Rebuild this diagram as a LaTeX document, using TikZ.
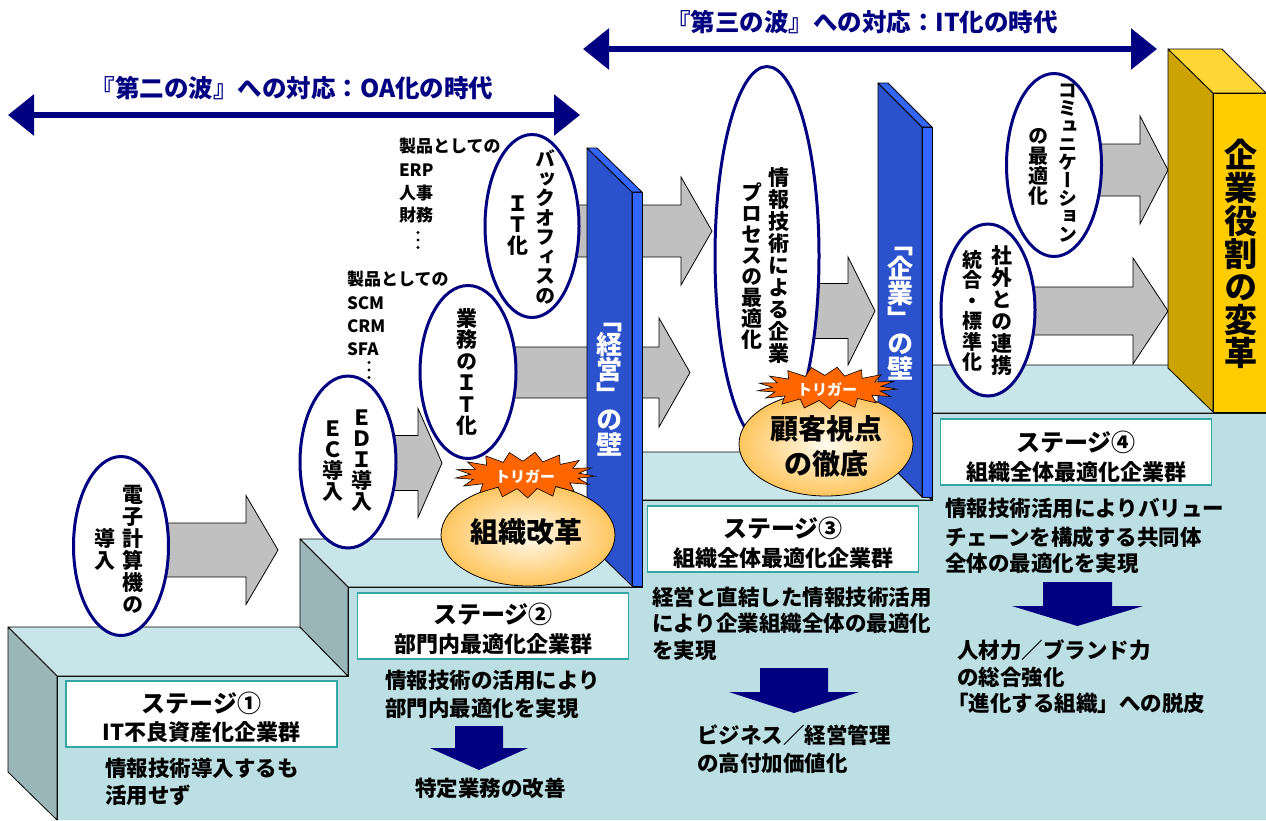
\documentclass[tikz,border=0pt]{standalone}
\usepackage{fontspec}
\usepackage{graphicx}
\setmainfont{Noto Sans CJK JP}
\newfontfamily\jv[RawFeature=+vert]{Noto Sans CJK JP}
\usetikzlibrary{shapes.geometric,arrows.meta}
\definecolor{navyc}{HTML}{000080}
\definecolor{topc}{HTML}{C8E6E9}
\definecolor{frontc}{HTML}{BBDFE3}
\definecolor{sidec}{HTML}{9BB6B9}
\definecolor{walld}{HTML}{2B52CC}
\definecolor{walll}{HTML}{3366FF}
\definecolor{pilf}{HTML}{FFCC00}
\definecolor{pils}{HTML}{CCA300}
\definecolor{pilt}{HTML}{FFD633}
\definecolor{grayc}{HTML}{C0C0C0}
\definecolor{burstc}{HTML}{FF6600}
\definecolor{ovin}{HTML}{FFFBEF}
\definecolor{ovout}{HTML}{FFC55E}
\definecolor{tealc}{HTML}{33A6A6}
\newcommand\grayarrow[6]{\filldraw[garrow] (#1,{#4-#5}) -- (#2,{#4-#5}) -- (#2,{#4-#6}) -- (#3,#4) -- (#2,{#4+#6}) -- (#2,{#4+#5}) -- (#1,{#4+#5}) -- cycle;}
\newcommand\navyarrow[6]{\fill[navyc] ({#1-#3},#2) -- ({#1+#3},#2) -- ({#1+#3},#4) -- ({#1+#5},#4) -- (#1,#6) -- ({#1-#5},#4) -- ({#1-#3},#4) -- cycle;}
\newcommand\threedots[2]{\fill (#1,{#2-7.5}) circle (1.7); \fill (#1,#2) circle (1.7); \fill (#1,{#2+7.5}) circle (1.7);}
% burst: centre x, centre y, outer rx, outer ry
\newcommand\burstshape[4]{\filldraw[fill=burstc,draw=black,line width=0.6pt,line join=miter]
  plot[samples at={0,...,33},variable=\k] ({#1+(mod(\k,2)==0 ? #3 : 0.78*#3)*cos(\k*360/34+3)},{#2+(mod(\k,2)==0 ? #4 : 0.6*#4)*sin(\k*360/34+3)}) -- cycle;}
\begin{document}
\begin{tikzpicture}[x=1pt,y=-1pt,
  every node/.style={inner sep=0pt,outer sep=0pt},
  face/.style={draw=black,line width=0.8pt,line join=round},
  garrow/.style={fill=grayc,draw=black,line width=0.8pt,line join=miter},
  ov/.style={ellipse,draw=navyc,line width=3pt,fill=white},
  vt/.style n args={2}{align=center,font={\jv\bfseries\fontsize{#1}{#2}\selectfont\lineskiplimit=-100pt}},
  bt/.style={anchor=west,font=\bfseries\fontsize{21.5}{25}\selectfont},
  lab/.style={anchor=west,font=\bfseries\fontsize{17}{20}\selectfont},
  hdr/.style={text=navyc,font=\bfseries\fontsize{24.5}{26}\selectfont},
  dbl/.style={navyc,line width=6pt,{Triangle[length=26pt,width=40pt]}-{Triangle[length=26pt,width=40pt]}},
  sbox/.style={draw=tealc,line width=1.5pt,fill=white,minimum width=271pt,minimum height=66pt},
  stt/.style={font=\bfseries\fontsize{24}{26}\selectfont},
  sst/.style={font=\bfseries\fontsize{22}{24}\selectfont},
  trig/.style={text=white,font=\bfseries\fontsize{15}{16}\selectfont},
  oval/.style={ellipse,draw=black,line width=0.8pt,inner color=ovin,outer color=ovout},
  big/.style={align=center,font=\bfseries\fontsize{28}{35}\selectfont}
]
\useasboundingbox (0,0) rectangle (1266,820);
% ---------- staircase ----------
\fill[frontc] (57,820) -- (57,676) -- (348,676) -- (348,587) -- (642,587) -- (642,500) -- (932,500) -- (932,413) -- (1266,413) -- (1266,820) -- cycle;
\draw[face] (57,820) -- (57,676) -- (348,676) -- (348,587) -- (642,587) -- (642,500) -- (932,500) -- (932,413) -- (1266,413);
\filldraw[face,fill=topc] (8,627) -- (300,627) -- (348,676) -- (57,676) -- cycle;
\filldraw[face,fill=topc] (300,539) -- (594,539) -- (642,587) -- (348,587) -- cycle;
\filldraw[face,fill=topc] (594,452) -- (884,452) -- (932,500) -- (642,500) -- cycle;
\filldraw[face,fill=topc] (884,365) -- (1266,365) -- (1266,413) -- (932,413) -- cycle;
\filldraw[face,fill=sidec] (8,627) -- (57,676) -- (57,820) -- (8,772) -- cycle;
\filldraw[face,fill=sidec] (300,539) -- (348,587) -- (348,676) -- (300,627) -- cycle;
\filldraw[face,fill=sidec] (594,452) -- (642,500) -- (642,587) -- (594,539) -- cycle;
\filldraw[face,fill=sidec] (884,365) -- (932,413) -- (932,500) -- (884,452) -- cycle;
% ---------- header arrows ----------
\coordinate (h1l) at (8,115);
\coordinate (h1r) at (580,115);
\coordinate (h2l) at (583,49);
\coordinate (h2r) at (1157,49);
\draw[dbl] (h1l) -- (h1r);
\draw[dbl] (h2l) -- (h2r);
\node[hdr] (h1) at (292,88) {『第二の波』への対応：OA化の時代};
\node[hdr] (h2) at (862,22) {『第三の波』への対応：IT化の時代};
% ---------- gray arrows ----------
\grayarrow{121}{246}{278}{550}{27}{54.5}
\grayarrow{348}{418}{442}{463}{27.5}{54.5}
\grayarrow{468}{659}{690}{372.5}{25.5}{54.5}
\grayarrow{532}{681}{712}{231}{26}{54}
\grayarrow{767}{848}{875}{311}{27.5}{54}
\grayarrow{1054}{1140}{1168}{170}{26}{54}
\grayarrow{988}{1133}{1168}{311}{24}{53}
% ---------- labels ----------
\node[lab] (l1) at (399,146) {製品としての};
\node[lab] (l2) at (399,170) {ERP};
\node[lab] (l3) at (399,193) {人事};
\node[lab] (l4) at (399,215) {財務};
\threedots{418}{240}
\node[lab] (m1) at (347,279) {製品としての};
\node[lab] (m2) at (347,303) {SCM};
\node[lab] (m3) at (347,326) {CRM};
\node[lab] (m4) at (347,349) {SFA};
\threedots{369}{370}
% ---------- ellipses ----------
\node[ov,minimum width=95pt,minimum height=179pt] (e1) at (121,546) {};
\node[vt={21}{22}] (e1a) at (133,549) {電\\子\\計\\算\\機\\の};
\node[vt={21}{22}] (e1b) at (105,549) {導\\入};
\node[ov,minimum width=96pt,minimum height=172pt] (e2) at (348,462) {};
\node[vt={21}{21}] (e2a) at (362,461) {Ｅ\\Ｄ\\Ｉ\\導\\入};
\node[vt={21}{21}] (e2b) at (333,461) {Ｅ\\Ｃ\\導\\入};
\node[ov,minimum width=96pt,minimum height=173pt] (e3) at (468,372) {};
\node[vt={21}{21.5}] (e3a) at (467,372) {業\\務\\の\\Ｉ\\Ｔ\\化};
\node[ov,minimum width=94pt,minimum height=183pt] (e4) at (532,226) {};
\node[vt={20}{19.5}] (e4a) at (545,227) {バ\\ッ\\ク\\オ\\フ\\ィ\\ス\\の};
\node[vt={21}{21}] (e4b) at (518,226) {Ｉ\\Ｔ\\化};
\node[ov,minimum width=104pt,minimum height=379pt] (e5) at (767,256) {};
\node[vt={21}{22}] (e5a) at (779,266) {情\\報\\技\\術\\に\\よ\\る\\企\\業};
\node[vt={21}{21}] (e5b) at (752,266) {プ\\ロ\\セ\\ス\\の\\最\\適\\化};
\node[ov,minimum width=95pt,minimum height=183pt] (e6) at (1054,165) {};
\node[vt={19}{18}] (e6a) at (1068,163) {コ\\ミ\\ュ\\ニ\\ケ\\ー\\シ\\ョ\\ン};
\node[vt={20}{20}] (e6b) at (1038,167) {の\\最\\適\\化};
\node[ov,minimum width=94pt,minimum height=172pt] (e7) at (988,310) {};
\node[vt={21}{22}] (e7a) at (1002,311) {社\\外\\と\\の\\連\\携};
\node[vt={20}{20.5}] (e7b) at (972,311) {統\\合\\・\\標\\準\\化};
% ---------- walls ----------
\filldraw[face,fill=walld] (587,148) -- (632,192) -- (632,586) -- (587,542) -- cycle;
\filldraw[face,fill=walll] (632,192) -- (642,192) -- (642,586) -- (632,586) -- cycle;
\filldraw[face,fill=walll] (587,148) -- (597,148) -- (642,192) -- (632,192) -- cycle;
\filldraw[face,fill=walld] (878,83) -- (922,127) -- (922,497) -- (878,453) -- cycle;
\filldraw[face,fill=walll] (922,127) -- (932,127) -- (932,497) -- (922,497) -- cycle;
\filldraw[face,fill=walll] (878,83) -- (888,83) -- (932,127) -- (922,127) -- cycle;
\node[vt={26}{25},text=white] (w1t) at (609,390) {「\\経\\営\\」\\の\\壁};
\node[vt={26}{25},text=white] (w2t) at (900,314) {「\\企\\業\\」\\の\\壁};
% ---------- pillar ----------
\filldraw[face,fill=pils] (1168,49) -- (1213,93) -- (1213,412) -- (1168,368) -- cycle;
\filldraw[face,fill=pilt] (1168,49) -- (1222,49) -- (1266,93) -- (1213,93) -- cycle;
\filldraw[face,fill=pilf] (1213,93) -- (1266,93) -- (1266,412) -- (1213,412) -- cycle;
\node[vt={33}{33}] (pt) at (1241,254) {企\\業\\役\\割\\の\\変\\革};
% ---------- triggers ----------
\node[oval,minimum width=174pt,minimum height=102pt] (o1) at (528,535) {};
\node[big] (o1t) at (526,532) {組織改革};
\burstshape{525}{475}{70}{23}
\node[trig] (b1) at (525,477) {トリガー};
\node[oval,minimum width=174pt,minimum height=104pt] (o2) at (826,444) {};
\node[big] (o2t) at (826,446) {顧客視点\\の徹底};
\burstshape{827}{388}{70}{21}
\node[trig] (b2) at (827,390) {トリガー};
% ---------- stage boxes ----------
\node[sbox] (s1) at (201.5,714) {};
\node[stt] (s1a) at (201.5,703) {ステージ①};
\node[sst] (s1b) at (201.5,732) {IT不良資産化企業群};
\node[sbox] (s2) at (493,626) {};
\node[stt] (s2a) at (493,614) {ステージ②};
\node[sst] (s2b) at (493,644) {部門内最適化企業群};
\node[sbox] (s3) at (783,539) {};
\node[stt] (s3a) at (783,528) {ステージ③};
\node[sst] (s3b) at (783,558) {組織全体最適化企業群};
\node[sbox] (s4) at (1076,452) {};
\node[stt] (s4a) at (1076,442) {ステージ④};
\node[sst] (s4b) at (1076,472) {組織全体最適化企業群};
% ---------- body texts ----------
\node[bt] (b1a) at (105,768) {情報技術導入するも};
\node[bt] (b1b) at (105,795) {活用せず};
\node[bt] (b2a) at (385,680) {情報技術の活用により};
\node[bt] (b2b) at (385,708) {部門内最適化を実現};
\navyarrow{479}{726}{24}{748}{49}{770}
\node[bt] (c2) at (415,788) {特定業務の改善};
\node[bt] (b3a) at (652,597) {経営と直結した情報技術活用};
\node[bt] (b3b) at (652,623) {により企業組織全体の最適化};
\node[bt] (b3c) at (652,650) {を実現};
\navyarrow{794}{668}{34}{692}{65}{713}
\node[bt] (c3a) at (697,735) {ビジネス／経営管理};
\node[bt] (c3b) at (697,763) {の高付加価値化};
\node[bt] (b4a) at (945,508) {情報技術活用によりバリュー};
\node[bt] (b4b) at (945,537) {チェーンを構成する共同体};
\node[bt] (b4c) at (945,563) {全体の最適化を実現};
\navyarrow{1077.5}{582}{34.5}{606}{65.5}{626}
\node[bt] (c4a) at (957,650) {人材力／ブランド力};
\node[bt] (c4b) at (957,677) {の総合強化};
\node[bt] (c4c) at (947,703) {「進化する組織」への脱皮};
\end{tikzpicture}
\end{document}
